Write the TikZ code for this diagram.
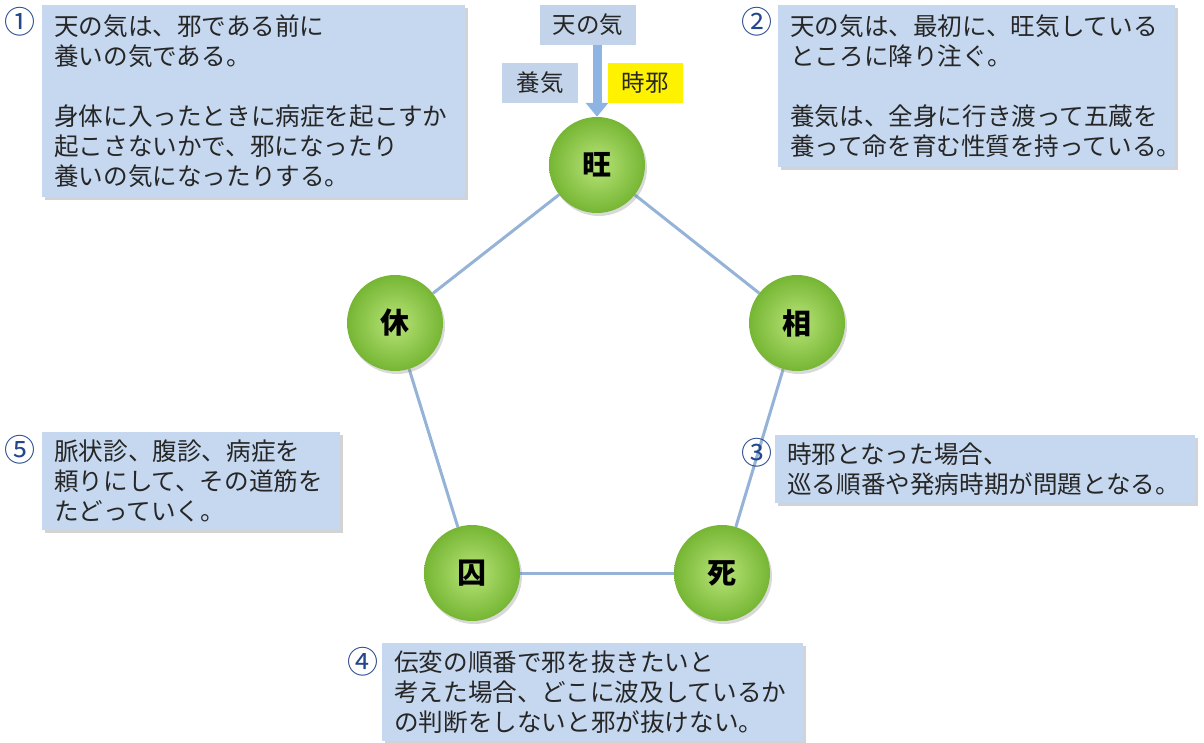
\documentclass[tikz,border=0pt]{standalone}
\usepackage{fontspec}
\setmainfont{Noto Sans CJK JP}
\usetikzlibrary{positioning,shadows,arrows.meta,backgrounds}
\definecolor{boxcol}{RGB}{198,216,239}
\definecolor{tagcol}{RGB}{195,211,233}
\definecolor{textcol}{RGB}{38,38,38}
\definecolor{numcol}{RGB}{35,70,140}
\definecolor{linecol}{RGB}{149,179,215}
\definecolor{arrowcol}{RGB}{142,180,227}
\definecolor{greenin}{RGB}{184,228,120}
\definecolor{greenout}{RGB}{118,182,52}
\tikzset{
  note/.style={fill=boxcol, anchor=north west, align=left, inner xsep=12pt, inner ysep=0pt,
    text=textcol, font=\fontsize{24.6}{30}\selectfont,
    drop shadow={shadow xshift=3pt, shadow yshift=-3pt, opacity=0.35}},
  num/.style={text=numcol, font=\fontsize{31}{30}\selectfont, inner sep=0pt},
  phase/.style={circle, minimum size=96pt, inner sep=0pt, shading=radial,
    inner color=greenin, outer color=greenout, text=black,
    font=\fontsize{29}{30}\selectfont\bfseries,
    drop shadow={shadow xshift=2pt, shadow yshift=-3pt, opacity=0.3}},
  link/.style={draw=linecol, line width=3pt},
  tag/.style={fill=tagcol, minimum height=40pt, inner xsep=9pt, inner ysep=0pt,
    text=textcol, font=\fontsize{23.5}{24}\selectfont}
}
\begin{document}
\begin{tikzpicture}[x=1pt,y=-1pt,>=latex,line join=bevel]
  \useasboundingbox (0,0) rectangle (1204,742);
%%
  % Node: Ou
  \node [phase] (Ou) at (597,165) {旺};
  % Node: Sou
  \node [phase] (Sou) at (797,323) {相};
  % Node: Shi
  \node [phase] (Shi) at (722,573) {死};
  % Node: Shuu
  \node [phase] (Shuu) at (472,573) {囚};
  % Node: Kyuu
  \node [phase] (Kyuu) at (395,323) {休};
%%
\begin{scope}[on background layer]
  % Edge: Ou -> Sou
  \draw [link] (Ou) -- (Sou);
  % Edge: Sou -> Shi
  \draw [link] (Sou) -- (Shi);
  % Edge: Shi -> Shuu
  \draw [link] (Shi) -- (Shuu);
  % Edge: Shuu -> Kyuu
  \draw [link] (Shuu) -- (Kyuu);
  % Edge: Kyuu -> Ou
  \draw [link] (Kyuu) -- (Ou);
\end{scope}
%%
  % Node: Tenki, Yoki, Jija
  \node [tag, minimum width=96pt] (Tenki) at (588,25) {天の気};
  \node [tag, minimum width=76pt] (Yoki) at (540,83) {養気};
  \node [tag, minimum width=75pt, fill=yellow] (Jija) at (645,83) {時邪};
  % Edge: Tenki -> Ou
  \draw [-{Triangle[width=22pt,length=14pt]}, draw=arrowcol, fill=arrowcol, line width=9pt]
    (Tenki.south -| Ou.north) -- (Ou.north);
%%
  % Node: T1
  \node [note, text width=399pt, minimum height=192pt] (T1) at (42,5)
    {天の気は、邪である前に\\養いの気である。\\[30pt]身体に入ったときに病症を起こすか\\起こさないかで、邪になったり\\養いの気になったりする。};
  \node [num] (N1) at (20,22) {①};
  % Node: T2
  \node [note, text width=373pt, minimum height=162pt] (T2) at (778,5)
    {天の気は、最初に、旺気している\\ところに降り注ぐ。\\[30pt]養気は、全身に行き渡って五蔵を\\養って命を育む性質を持っている。};
  \node [num] (N2) at (757,22) {②};
  % Node: T3
  \node [note, text width=396pt, minimum height=68pt] (T3) at (775,435)
    {時邪となった場合、\\巡る順番や発病時期が問題となる。};
  \node [num] (N3) at (757,453) {③};
  % Node: T4
  \node [note, text width=397pt, minimum height=98pt] (T4) at (382,643)
    {伝変の順番で邪を抜きたいと\\考えた場合、どこに波及しているか\\の判断をしないと邪が抜けない。};
  \node [num] (N4) at (363,662) {④};
  % Node: T5
  \node [note, text width=274pt, minimum height=98pt] (T5) at (42,432)
    {脈状診、腹診、病症を\\頼りにして、その道筋を\\たどっていく。};
  \node [num] (N5) at (20,450) {⑤};
%
\end{tikzpicture}
\end{document}
